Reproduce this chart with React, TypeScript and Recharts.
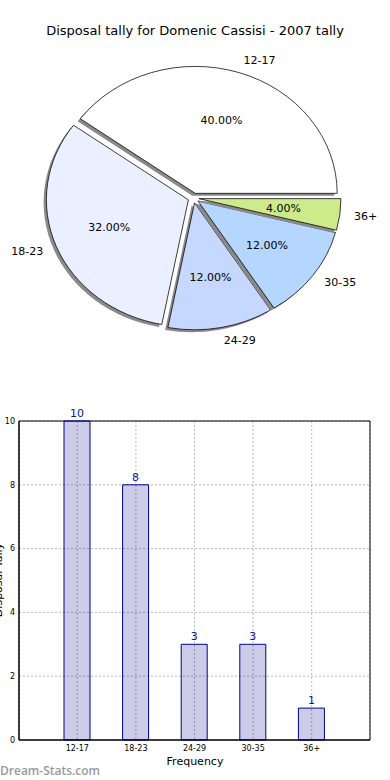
import React from 'react';
import {
  PieChart,
  Pie,
  Cell,
  BarChart,
  Bar,
  XAxis,
  YAxis,
  CartesianGrid,
  LabelList,
  ReferenceArea,
} from 'recharts';

const categories = ['12-17', '18-23', '24-29', '30-35', '36+'];
const disposals = [10, 8, 3, 3, 1];
const sliceColors = ['#ffffff', '#eaf0ff', '#c6d8ff', '#b4d6ff', '#cdeb8b'];
const yTicks = [0, 2, 4, 6, 8, 10];

const pieData = categories.map((name, i) => ({ name, value: disposals[i] }));

const FONT = '"DejaVu Sans", sans-serif';

// the original pie is drawn squashed (non-equal aspect), so the pie layer is scaled vertically
const SY = 0.894;
const CX = 193.5;
const CY = 221.5;
const R = 142;
const EXPLODE = 5.5;
const SHADOW = 2.8;

const total = disposals.reduce((a, b) => a + b, 0);
const midAngles = disposals.map((v, i) => {
  const before = disposals.slice(0, i).reduce((a, b) => a + b, 0);
  return ((before + v / 2) / total) * 360;
});

const textStyle = { fontSize: 11, fontFamily: FONT, fill: '#000' };

// percent inside at 0.6 r, name outside at 1.1 r (counter-scaled so the text isn't squashed)
const sliceLabel = (idx: number) => (p: any) => {
  if (p.index !== idx) return null;
  const rad = (Math.PI / 180) * p.midAngle;
  const cos = Math.cos(rad);
  const sin = Math.sin(rad);
  const ix = p.cx + 0.6 * R * cos;
  const iy = p.cy - 0.6 * R * sin;
  const ox = p.cx + 1.1 * R * cos;
  const oy = p.cy - 1.1 * R * sin;
  return (
    <g>
      <text
        transform={`translate(${ix},${iy}) scale(1,${1 / SY})`}
        textAnchor="middle"
        dominantBaseline="central"
        style={textStyle}
      >
        {(p.percent * 100).toFixed(2)}%
      </text>
      <text
        transform={`translate(${ox},${oy}) scale(1,${1 / SY})`}
        textAnchor={cos >= 0 ? 'start' : 'end'}
        dominantBaseline="central"
        style={textStyle}
      >
        {p.name}
      </text>
    </g>
  );
};

export default function App() {
  return (
    <div style={{ position: 'relative', width: 390, height: 780, background: '#fff', overflow: 'hidden' }}>
      <style>{'body{margin:0}'}</style>

      <div style={{ position: 'absolute', top: 0, left: 0, transform: `scaleY(${SY})`, transformOrigin: '0 0' }}>
        <PieChart width={390} height={450} margin={{ top: 0, right: 0, bottom: 0, left: 0 }}>
          {pieData.map((_, i) => {
            const rad = (Math.PI / 180) * midAngles[i];
            const cx = CX + EXPLODE * Math.cos(rad);
            const cy = CY - EXPLODE * Math.sin(rad);
            return (
              <React.Fragment key={i}>
                <Pie
                  data={pieData}
                  dataKey="value"
                  nameKey="name"
                  cx={cx - SHADOW}
                  cy={cy + SHADOW}
                  outerRadius={R}
                  stroke="none"
                  isAnimationActive={false}
                >
                  {pieData.map((d, j) => (
                    <Cell key={d.name} fill={j === i ? '#8a8a8a' : 'none'} stroke="none" />
                  ))}
                </Pie>
                <Pie
                  data={pieData}
                  dataKey="value"
                  nameKey="name"
                  cx={cx}
                  cy={cy}
                  outerRadius={R}
                  isAnimationActive={false}
                  label={sliceLabel(i)}
                  labelLine={false}
                >
                  {pieData.map((d, j) => (
                    <Cell
                      key={d.name}
                      fill={j === i ? sliceColors[i] : 'none'}
                      stroke={j === i ? '#000' : 'none'}
                      strokeWidth={0.8}
                    />
                  ))}
                </Pie>
              </React.Fragment>
            );
          })}
        </PieChart>
      </div>

      <div style={{ position: 'absolute', top: 400, left: 0 }}>
        <BarChart width={390} height={380} data={pieData} margin={{ top: 21, right: 20, bottom: 20, left: 0 }}>
          <CartesianGrid stroke="#b8b8b8" strokeDasharray="2 2" />
          <XAxis
            dataKey="name"
            padding={{ left: 29, right: 29 }}
            height={20}
            interval={0}
            tickLine={false}
            tickSize={5}
            tickMargin={0}
            stroke="#000"
            tick={{ fontSize: 8, fill: '#000', fontFamily: FONT }}
          />
          {/* unpadded hidden axis, only used so the frame spans the whole plot */}
          <XAxis xAxisId="frame" dataKey="name" hide />
          <YAxis
            width={19}
            domain={[0, 10]}
            ticks={yTicks}
            tickLine={false}
            tickSize={4}
            tickMargin={0}
            stroke="#000"
            tick={{ fontSize: 8, fill: '#000', fontFamily: FONT }}
          />
          <ReferenceArea xAxisId="frame" y1={0} y2={10} fill="none" stroke="#000" strokeWidth={1} ifOverflow="visible" />
          <Bar
            dataKey="value"
            barSize={26}
            fill="#00008b"
            fillOpacity={0.2}
            stroke="#00008b"
            strokeWidth={1}
            isAnimationActive={false}
          >
            <LabelList dataKey="value" position="top" offset={4} fill="#1010a0" fontSize={11} fontFamily={FONT} />
          </Bar>
        </BarChart>
      </div>

      <svg width={390} height={780} style={{ position: 'absolute', top: 0, left: 0, pointerEvents: 'none' }}>
        <text x={195} y={30} textAnchor="middle" dominantBaseline="central" style={{ fontSize: 13, fontFamily: FONT, fill: '#000' }}>
          Disposal tally for Domenic Cassisi - 2007 tally
        </text>
        <text x={195} y={761} textAnchor="middle" dominantBaseline="central" style={textStyle}>
          Frequency
        </text>
        <text transform="translate(2,580) rotate(-90)" textAnchor="middle" style={textStyle}>
          Disposal Tally
        </text>
        <text x={0} y={770} dominantBaseline="central" style={{ fontSize: 12, fontFamily: '"Open Sans", sans-serif', fontWeight: 600, fill: '#999' }}>
          Dream-Stats.com
        </text>
      </svg>
    </div>
  );
}
